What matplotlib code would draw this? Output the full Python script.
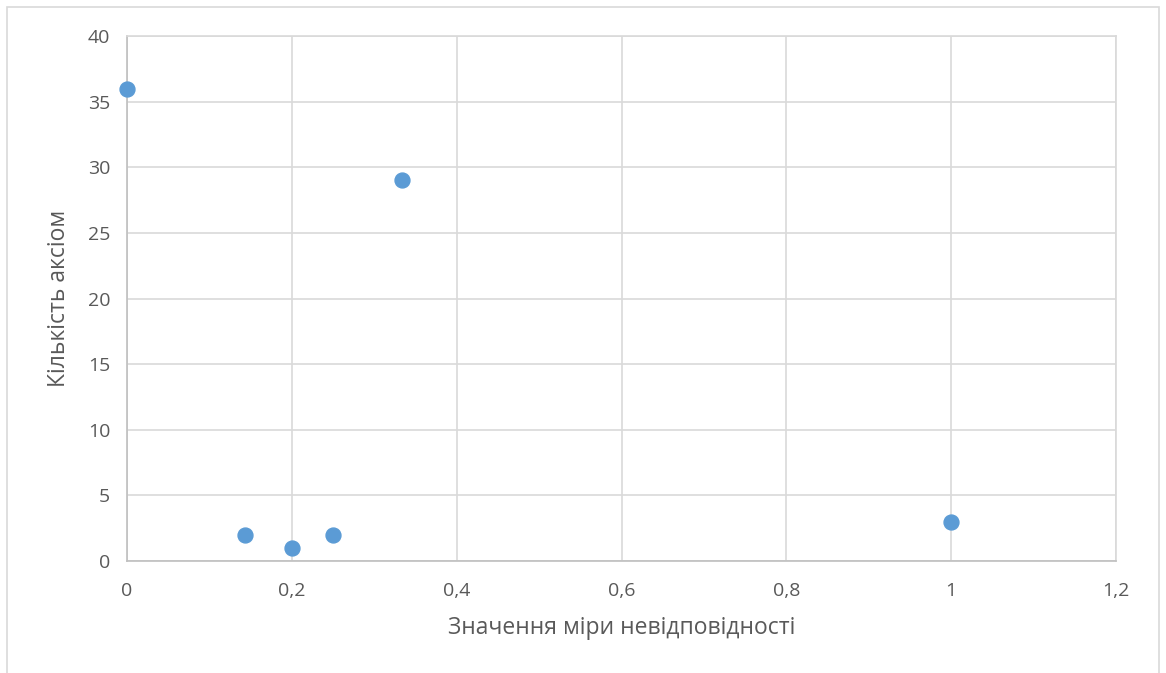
import matplotlib
matplotlib.use("Agg")
import matplotlib.pyplot as plt
from matplotlib.patches import Rectangle
from matplotlib.ticker import FuncFormatter

# значення міри невідповідності та кількість аксіом
mira = [0, 1/7, 0.2, 0.25, 1/3, 1]
kilkist = [36, 2, 1, 2, 29, 3]

x_ticks = [0, 0.2, 0.4, 0.6, 0.8, 1, 1.2]
y_ticks = [0, 5, 10, 15, 20, 25, 30, 35, 40]

plt.rcParams["font.family"] = ["Open Sans", "DejaVu Sans"]

fig = plt.figure(figsize=(11.66, 6.73), dpi=100)
ax = fig.add_axes([127/1166, 1 - 561/673, (1116 - 127)/1166, (561 - 36)/673])

# рамка навколо діаграми
fig.patches.append(Rectangle((7/1166, -0.02), (1159 - 7)/1166, 1.02 - 7/673,
                             transform=fig.transFigure, fill=False,
                             edgecolor="#d9d9d9", linewidth=1.2))

ax.scatter(mira, kilkist, s=115, color="#5B9BD5", zorder=3, clip_on=False)

ax.set_xlim(0, 1.2)
ax.set_ylim(0, 40)
ax.set_xticks(x_ticks)
ax.set_yticks(y_ticks)

fmt = FuncFormatter(lambda v, p: ("%g" % round(v, 2)).replace(".", ","))
ax.xaxis.set_major_formatter(fmt)

ax.grid(True, color="#d9d9d9", linewidth=1.2)
ax.set_axisbelow(True)
for s in ax.spines.values():
    s.set_color("#d9d9d9")
    s.set_linewidth(1.2)
ax.spines["left"].set_color("#bfbfbf")
ax.spines["bottom"].set_color("#bfbfbf")

ax.tick_params(length=0, labelsize=14, colors="#595959", pad=12)
ax.tick_params(axis="x", pad=15)

ax.set_xlabel("Значення міри невідповідності", fontsize=16.5, color="#595959", labelpad=12)
ax.set_ylabel("Кількість аксіом", fontsize=16.5, color="#595959", labelpad=12)

fig.savefig("out.png", dpi=100)
